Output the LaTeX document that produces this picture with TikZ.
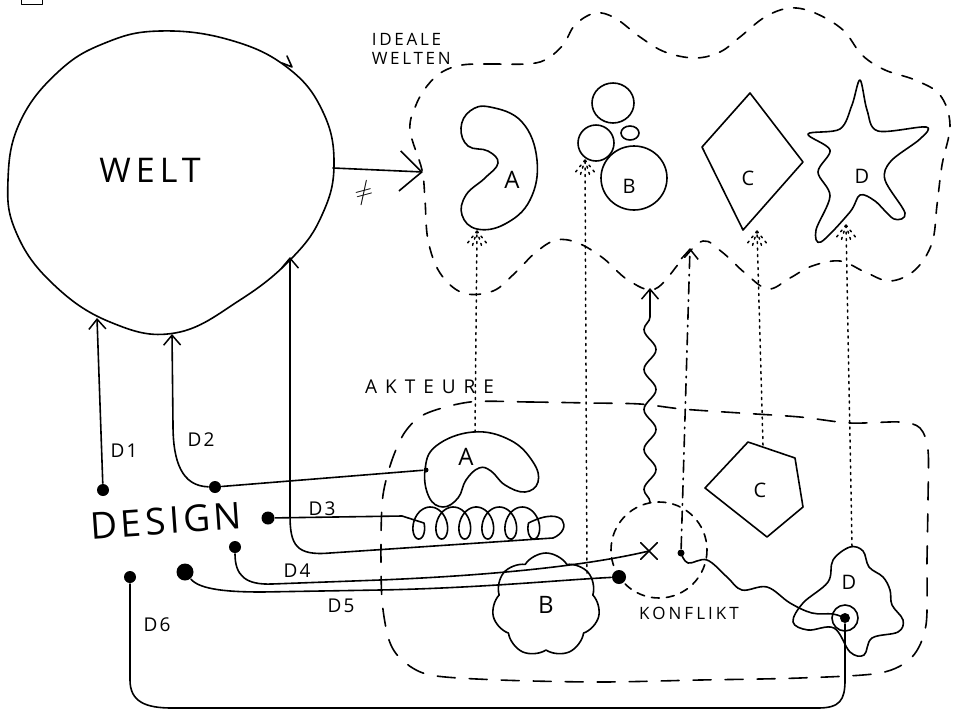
\documentclass[tikz,border=0pt]{standalone}
\usepackage{fontspec}
\setmainfont{Open Sans}
\usetikzlibrary{arrows.meta,decorations.pathmorphing,shapes.symbols,shapes.misc}
\newcommand\handfont[2]{\fontsize{#1}{#1}\selectfont\addfontfeatures{LetterSpace=#2}}
\newcommand\dotfan[1]{\draw[dotline] (#1) -- ++(-11,14) (#1) -- ++(-5,16) (#1) -- ++(5,16) (#1) -- ++(11,14);}
\begin{document}
\begin{tikzpicture}[x=1pt,y=-1pt,line width=1.6pt,line cap=round,line join=round,
  barb/.style={-{Straight Barb[length=10pt,width=17pt,line width=1.5pt]}},
  bigbarb/.style={-{Straight Barb[length=22pt,width=40pt,line width=1.6pt]}},
  dot/.style={circle,fill=black,inner sep=0pt,minimum size=#1},
  dot/.default=10pt,
  cloudline/.style={dash pattern=on 11pt off 11pt},
  actline/.style={dash pattern=on 18pt off 14pt},
  dotline/.style={dash pattern=on 2pt off 4.5pt,line width=1.5pt},
  dashdot/.style={dash pattern=on 12pt off 6pt on 1.5pt off 6pt},
  big/.style={font={\handfont{34}{15}}},
  lab/.style={font={\handfont{19}{12}}},
  shp/.style={font={\handfont{24}{0}}},
  ]
\useasboundingbox (0,0) rectangle (961,713);

% clipped box at the top edge
\draw[line width=0.9pt] (21,-12) rectangle (42,4);

% ---------------- WELT ----------------
\draw plot[smooth cycle,tension=0.7] coordinates {(160,31) (230,40) (288,68) (323,112) (334,165) (322,215) (292,258) (240,300) (175,333) (110,322) (52,283) (16,232) (8,180) (20,122) (58,72) (105,43)};
\node[big] (welt) at (150,170) {WELT};
\coordinate (wtip) at (292,67);
\draw (282,63) -- (wtip) -- (287,56);

\coordinate (wr) at (333,168);
\coordinate (iw) at (423,172);
\draw[bigbarb] (wr) -- (iw);
\node[font=\fontsize{28}{28}\selectfont,rotate=15] (neq) at (364,193) {$\neq$};

% ---------------- IDEALE WELTEN ----------------
\node[anchor=north west,align=left,inner sep=0pt,font={\fontsize{17}{19}\selectfont\addfontfeatures{LetterSpace=16}}] (ideale) at (371,33) {IDEALE\\WELTEN};
\draw[cloudline] plot[smooth cycle,tension=0.6] coordinates {(462,65) (490,64) (525,64) (545,60) (563,45) (575,25) (595,13) (615,18) (640,37) (665,52) (695,58) (720,52) (740,37) (765,17) (790,8) (815,13) (843,30) (862,55) (885,70) (915,80) (940,95) (950,125) (942,165) (937,205) (932,243) (915,270) (890,281) (865,272) (840,261) (812,266) (790,278) (768,289) (745,273) (722,252) (703,241) (682,260) (655,289) (628,280) (603,258) (578,243) (556,240) (535,253) (515,273) (493,291) (463,293) (440,273) (428,240) (425,200) (422,170) (410,130) (416,105) (427,86) (442,72)};

% ideal A
\draw plot[smooth cycle,tension=0.7] coordinates {(490,107) (522,122) (537,160) (530,200) (505,224) (477,229) (462,215) (466,195) (485,178) (498,163) (488,151) (468,146) (461,128) (470,111)};
\node[shp] (iA) at (512,180) {A};
% ideal B
\draw (613,103) ellipse [x radius=21,y radius=20];
\draw (596,143) ellipse [x radius=18,y radius=18];
\draw (630,133) ellipse [x radius=9,y radius=7];
\draw (634,178) ellipse [x radius=33,y radius=32];
\node[shp,font={\handfont{20}{0}}] (iB) at (629,186) {B};
% ideal C
\draw (750,93) -- (803,162) -- (743,230) -- (702,147) -- cycle;
\node[shp,font={\handfont{20}{0}}] (iC) at (748,178) {C};
% ideal D
\draw plot[smooth cycle,tension=0.55] coordinates {(860,80) (867,110) (878,131) (926,127) (920,139) (891,161) (885,180) (905,213) (894,219) (875,201) (860,195) (850,212) (821,242) (816,230) (830,196) (818,172) (830,150) (808,134) (840,129) (852,105)};
\node[shp,font={\handfont{20}{0}}] (iD) at (862,176) {D};

% ---------------- AKTEURE ----------------
\node[font={\handfont{19}{42}},anchor=west] (akteure) at (361,387) {AKTEURE};
\draw[actline] plot[smooth cycle,tension=0.5] coordinates {(470,402) (530,402) (590,403) (640,404) (682,409) (740,413) (800,417) (850,423) (900,422) (920,428) (928,450) (928,500) (927,560) (926,625) (912,657) (880,673) (800,678) (700,680) (600,682) (500,680) (430,675) (402,660) (389,640) (382,600) (381,540) (383,495) (392,460) (405,432) (425,414)};

% actor A
\draw plot[smooth cycle,tension=0.7] coordinates {(425,470) (436,446) (473,432) (510,440) (533,462) (538,482) (525,492) (505,485) (491,471) (479,468) (466,480) (458,498) (443,507) (429,497)};
\node[shp] (aA) at (466,457) {A};
\node[dot=5pt] (aAl) at (426,470) {};
% actor B
\node[cloud,draw,cloud puffs=7,cloud puff arc=115,aspect=1,minimum width=108pt,minimum height=104pt,shp] (aB) at (546,605) {B};
% actor C
\draw (748,442) -- (795,458) -- (803,507) -- (767,537) -- (705,488) -- cycle;
\node[shp,font={\handfont{20}{0}}] (aC) at (760,490) {C};
% actor D
\draw plot[smooth cycle,tension=0.6] coordinates {(850,547) (863,551) (869,567) (883,577) (890,590) (892,605) (903,620) (898,632) (872,638) (864,655) (850,652) (834,628) (808,630) (793,622) (803,603) (828,582) (833,560)};
\node[shp,font={\handfont{20}{0}}] (aD) at (849,582) {D};
\node[dot=10pt] (ddot) at (845,618) {};
\draw (ddot) circle [radius=13];

% ---------------- KONFLIKT ----------------
\draw[dash pattern=on 8pt off 7pt] (659,550) circle [radius=48];
\node[font={\handfont{17}{18}}] (konflikt) at (689,613) {KONFLIKT};
\node[cross out,draw,minimum size=15pt,inner sep=0pt] (xk) at (649,551) {};
\node[dot=7pt] (kd) at (681,553) {};
\node[dot=14pt] (d5end) at (619,577) {};

% ---------------- DESIGN ----------------
\node[font={\handfont{37}{10}},rotate=4] (design) at (166,521) {DESIGN};
\node[dot=12pt] (d1) at (103,490) {};
\node[dot=12pt] (d2) at (215,487) {};
\node[dot=13pt] (d3) at (268,518) {};
\node[dot=12pt] (d4) at (235,547) {};
\node[dot=17pt] (d5) at (185,572) {};
\node[dot=12pt] (d6) at (130,577) {};
\node[lab] (l1) at (124,451) {D1};
\node[lab] (l2) at (201,440) {D2};
\node[lab] (l3) at (322,509) {D3};
\node[lab] (l4) at (297,571) {D4};
\node[lab] (l5) at (341,606) {D5};
\node[lab] (l6) at (157,625) {D6};

\coordinate (w1) at (97,318);
\coordinate (w2) at (172,334);
\coordinate (w3) at (290,257);

% D1
\draw[barb] (d1) -- (w1);
% D2
\draw[barb] (d2) .. controls (182,486) and (173,462) .. (173,425) -- (w2);
\draw (d2) -- (aAl);
% D3 with coil
\draw[barb] (d3) -- (402,516)
  -- plot[smooth,domain=-90:1890,samples=260] ({413+0.0639*(\x+90)-11*sin(\x)},{523+16*cos(\x)})
  .. controls (566,504) and (573,530) .. (553,538)
  -- (330,553) .. controls (296,556) and (290,545) .. (290,515) -- (w3);
% D4
\draw (d4) .. controls (235,576) and (246,585) .. (272,584) -- (380,580) .. controls (500,575) and (590,565) .. (xk.center);
% D5
\draw (d5) .. controls (200,590) and (230,592) .. (262,592) -- (380,590) .. controls (480,588) and (560,580) .. (d5end);
% D6
\draw (d6) -- (130,680) .. controls (130,702) and (146,708) .. (172,708) -- (818,708) .. controls (840,708) and (845,700) .. (845,680) -- (ddot);

% wavy link D -> small dot
\draw plot[smooth,tension=0.6] coordinates {(kd) (688,563) (707,560) (727,577) (742,590) (767,587) (790,603) (812,613) (833,614) (ddot)};

% dash-dot arrow
\coordinate (ddtip) at (690,248);
\draw[dashdot,barb] (kd) -- (ddtip);
% wavy arrow from KONFLIKT
\coordinate (kt) at (650,502);
\coordinate (wtip2) at (650,288);
\draw[barb,decorate,decoration={snake,amplitude=6pt,segment length=40pt,post length=10pt}] (kt) -- (wtip2);

% dotted arrows
\coordinate (aAt) at (475,432); \coordinate (iAb) at (477,231);
\coordinate (aBt) at (587,573); \coordinate (iBb) at (585,160);
\coordinate (aCt) at (763,445); \coordinate (iCb) at (757,231);
\coordinate (aDt) at (852,546); \coordinate (iDb) at (846,225);
\draw[dotline] (aAt) -- (iAb); \dotfan{iAb}
\draw[dotline] (aBt) -- (iBb); \dotfan{iBb}
\draw[dotline] (aCt) -- (iCb); \dotfan{iCb}
\draw[dotline] (aDt) -- (iDb); \dotfan{iDb}
\end{tikzpicture}
\end{document}
